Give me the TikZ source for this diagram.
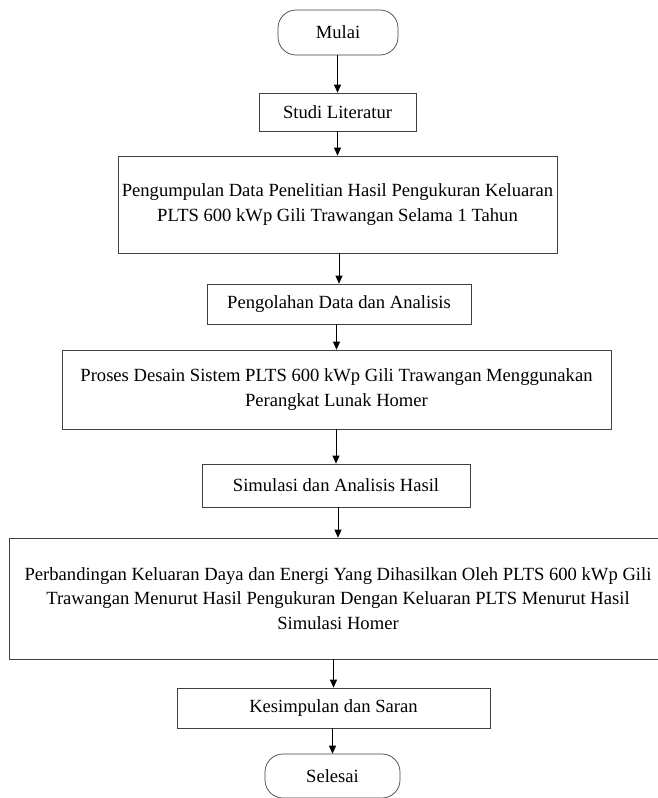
\documentclass[tikz,border=0pt]{standalone}
\usepackage{fontspec}
\setmainfont{Liberation Serif}
\usetikzlibrary{arrows.meta}

\begin{document}
\begin{tikzpicture}[x=1pt,y=-1pt,
	proc/.style={draw=black!75,line width=0.7pt,inner sep=0pt,align=center,
		font=\fontsize{18.6}{24.5}\selectfont},
	term/.style={proc,rounded corners=18pt},
	flow/.style={-{Triangle[length=8pt,width=7pt]},line width=0.8pt}]
\useasboundingbox (0,0) rectangle (657,798);

\node[term,minimum width=120pt,minimum height=45pt] (mulai) at (338,32.5) {Mulai};
\node[proc,minimum width=157pt,minimum height=38pt] (studi) at (337.5,112) {Studi Literatur};
\node[proc,minimum width=439pt,minimum height=97pt] (kumpul) at (337.5,204.5)
	{Pengumpulan Data Penelitian Hasil Pengukuran Keluaran\\PLTS 600 kWp Gili Trawangan Selama 1 Tahun};
\node[proc,minimum width=264pt,minimum height=40pt] (olah) at (339,304) {Pengolahan Data dan Analisis};
\node[proc,minimum width=549pt,minimum height=79pt] (desain) at (336.5,389.5)
	{Proses Desain Sistem PLTS 600 kWp Gili Trawangan Menggunakan\\Perangkat Lunak Homer};
\node[proc,minimum width=268pt,minimum height=43pt] (simulasi) at (336,485.5) {Simulasi dan Analisis Hasil};
\node[proc,minimum width=658pt,minimum height=121pt] (banding) at (338,598.5)
	{Perbandingan Keluaran Daya dan Energi Yang Dihasilkan Oleh PLTS 600 kWp Gili\\
	Trawangan Menurut Hasil Pengukuran Dengan Keluaran PLTS Menurut Hasil\\Simulasi Homer};
\node[proc,minimum width=313pt,minimum height=40pt] (simpul) at (333.5,708) {Kesimpulan dan Saran};
\node[term,minimum width=135pt,minimum height=44pt] (selesai) at (332.5,776) {Selesai};

\foreach \a/\b in {mulai/studi,studi/kumpul,kumpul/olah,olah/desain,desain/simulasi,
	simulasi/banding,banding/simpul,simpul/selesai}
	\draw[flow] (\a.south -| \b) -- (\b);

\end{tikzpicture}
\end{document}
